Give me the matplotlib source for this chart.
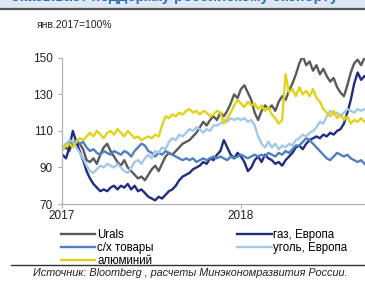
import matplotlib
matplotlib.use("Agg")
import matplotlib.pyplot as plt
import pandas as pd

plt.rcParams.update({
    "font.family": ["Liberation Sans", "DejaVu Sans"],
    "font.size": 8,
})

# ── Data (weekly, index Jan 2017 = 100) ─────────────────────────────────────
dates = pd.date_range("2017-01-02", periods=89, freq="7D")

urals = [100, 101, 99, 104, 102, 103, 100, 94, 93, 95, 92, 97, 101,
         103, 99, 96, 93, 91, 94, 90, 88, 86, 84, 85, 83, 86, 89, 91, 88,
         92, 96, 98, 97, 99, 101, 103, 104, 105, 107, 109, 112, 115, 113,
         116, 118, 116, 120, 118, 121, 125, 130, 128, 133, 135, 131, 127,
         120, 116, 121, 124, 122, 124, 121, 126, 129, 127, 132, 136, 141,
         147, 151, 146, 148, 143, 146, 141, 144, 140, 137, 139, 134, 131,
         129, 135, 142, 147, 149, 146, 150]

gas = [97, 95, 101, 110, 104, 99, 94, 88, 84, 81, 79, 77, 78, 77, 79,
       80, 78, 80, 79, 81, 78, 80, 77, 78, 76, 74, 73, 72, 74, 73, 75,
       77, 78, 80, 83, 85, 86, 87, 89, 90, 91, 93, 92, 95, 94, 97, 99,
       105, 101, 97, 95, 98, 96, 93, 88, 90, 94, 96, 93, 97, 95, 94, 92,
       93, 91, 94, 96, 98, 101, 102, 100, 103, 105, 106, 107, 106, 108,
       107, 109, 108, 110, 111, 114, 120, 127, 136, 142, 138, 140]

agri = [100, 103, 104, 102, 105, 103, 104, 101, 99, 100, 98, 97, 99,
        98, 97, 99, 98, 97, 99, 98, 96, 99, 101, 103, 102, 99, 98, 96,
        98, 97, 99, 98, 97, 96, 95, 94, 95, 94, 95, 93, 94, 95, 94, 95,
        96, 95, 96, 95, 94, 96, 95, 96, 97, 96, 95, 96, 97, 96, 97, 96,
        98, 97, 96, 98, 97, 99, 98, 100, 102, 102, 104, 106, 105, 103,
        101, 99, 97, 95, 94, 96, 98, 97, 96, 97, 95, 94, 93, 94, 92]

coal = [100, 103, 105, 104, 101, 98, 95, 91, 88, 87, 89, 91, 90, 92, 91,
        90, 92, 90, 88, 87, 90, 93, 94, 92, 95, 97, 95, 99, 98, 101, 100,
        104, 106, 105, 108, 107, 109, 111, 110, 112, 111, 109, 111, 110,
        113, 113, 114, 116, 115, 117, 116, 117, 116, 117, 115, 116, 113,
        107, 103, 101, 104, 101, 103, 100, 102, 101, 103, 102, 105, 106,
        108, 107, 109, 110, 112, 115, 114, 118, 121, 119, 120, 118, 120,
        122, 121, 120, 122, 121, 122]

alum = [100, 102, 103, 101, 104, 106, 105, 107, 109, 107, 110, 108, 106,
        109, 110, 108, 111, 109, 107, 110, 108, 106, 107, 105, 106, 107,
        106, 108, 107, 113, 118, 117, 119, 118, 120, 119, 121, 122, 120,
        121, 119, 121, 120, 118, 119, 121, 120, 114, 117, 120, 124, 127,
        125, 123, 126, 124, 125, 122, 124, 121, 123, 119, 117, 114, 116,
        141, 131, 133, 129, 134, 130, 132, 129, 133, 128, 126, 122, 120,
        118, 121, 117, 119, 116, 118, 114, 116, 115, 117, 115]

series = [
    ("Urals", urals, "#5a5a5a"),
    ("газ, Европа", gas, "#1f2d80"),
    ("с/х товары", agri, "#4f7fbf"),
    ("уголь, Европа", coal, "#a3c8e8"),
    ("алюминий", alum, "#e3d21a"),
]

# ── Figure ──────────────────────────────────────────────────────────────────
fig = plt.figure(figsize=(3.65, 2.81), dpi=100)
ax = fig.add_axes([0.170, 0.274, 0.830, 0.520])

lines = {}
for name, vals, color in series:
    lines[name], = ax.plot(dates, vals, color=color, lw=1.7, label=name)

ax.set_ylim(70, 150)
ax.set_yticks([70, 90, 110, 130, 150])
ax.set_xlim(pd.Timestamp("2017-01-01"), pd.Timestamp("2018-09-11"))
ax.set_xticks([pd.Timestamp("2017-01-01"), pd.Timestamp("2018-01-01")])
ax.set_xticklabels(["2017", "2018"])
for s in ("top", "right"):
    ax.spines[s].set_visible(False)
for s in ("left", "bottom"):
    ax.spines[s].set_color("#b0b0b0")
    ax.spines[s].set_linewidth(0.9)
ax.tick_params(axis="both", colors="#b0b0b0", labelcolor="#222222",
               labelsize=8.5, length=3, width=0.8)
ax.tick_params(axis="x", pad=1)

# legend in two columns, order as in the reference
order = ["Urals", "с/х товары", "алюминий", "газ, Европа", "уголь, Европа"]
leg_kw = dict(loc="upper left", frameon=False, fontsize=8.3, handlelength=3.0,
              handletextpad=0.15, labelspacing=0.1, borderpad=0)
fig.legend([lines[n] for n in order[:3]], order[:3],
           bbox_to_anchor=(0.151, 0.206), **leg_kw)
fig.legend([lines[n] for n in order[3:]], order[3:],
           bbox_to_anchor=(0.634, 0.206), **leg_kw)

fig.text(0.10, 0.91, "янв.2017=100%", fontsize=7.5, color="#222222",
         ha="left", va="center")

# header band (cut off at the top of the picture)
fig.patches.append(plt.Rectangle((0, 0.972), 1, 0.03, transform=fig.transFigure,
                                 color="#dde8f4", zorder=0))
fig.text(0.03, 0.985, "оказывает поддержку российскому экспорту",
         fontsize=10.5, fontweight="bold", color="#2e6fb5", ha="left", va="bottom")
fig.add_artist(plt.Line2D([0, 1], [0.968, 0.968], color="#555555", lw=1.6,
                          transform=fig.transFigure))

# footer
fig.add_artist(plt.Line2D([0.03, 1], [0.057, 0.057], color="#333333", lw=1.0,
                          transform=fig.transFigure))
fig.text(0.52, 0.027, "Источник: Bloomberg , расчеты Минэкономразвития России.",
         fontsize=7.8, style="italic", color="#222222", ha="center", va="center")

fig.savefig("out.png", dpi=100)
